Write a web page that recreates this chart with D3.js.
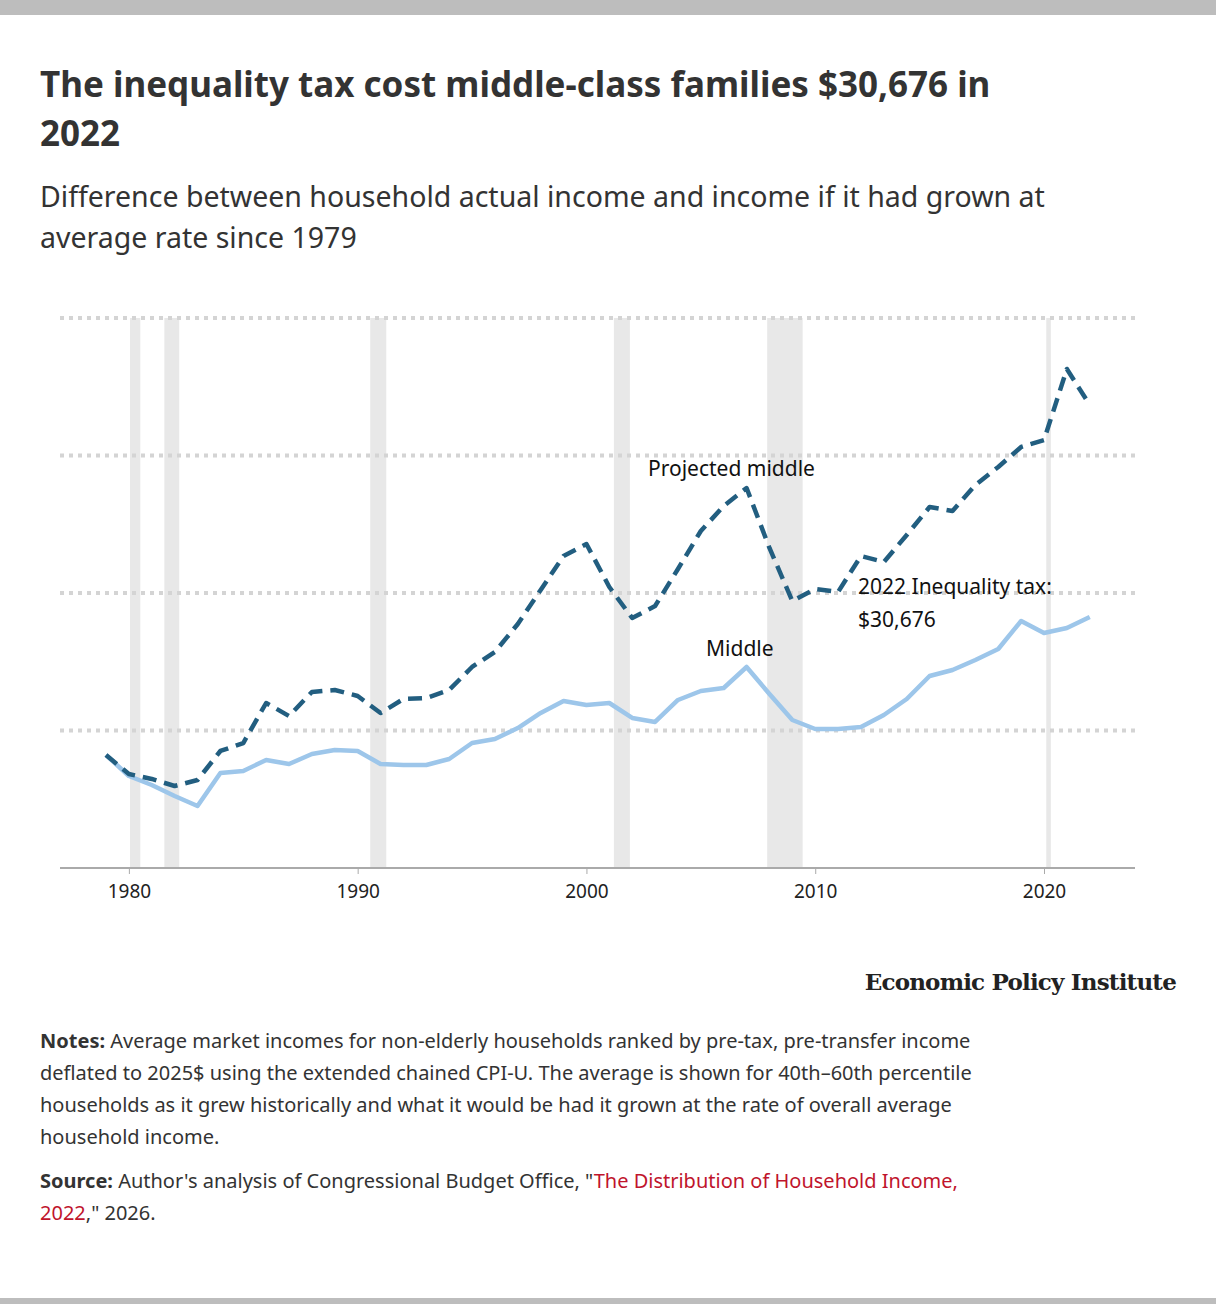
<!DOCTYPE html>
<html>
<head>
<meta charset="utf-8">
<script src="https://d3js.org/d3.v7.min.js"></script>
<style>
body{margin:0;background:#fff;font-family:"Noto Sans",sans-serif;}
</style>
</head>
<body>
<script>
var years = d3.range(1979, 2023);
// thousands of 2025$
var middle = [16.44,13.38,12.07,10.47,9.02,13.82,14.11,15.71,15.13,16.58,17.16,17.02,15.13,14.98,14.98,15.85,18.18,18.76,20.36,22.55,24.29,23.71,24.0,21.82,21.24,24.44,25.75,26.18,29.24,25.31,21.53,20.22,20.22,20.51,22.25,24.58,27.93,28.80,30.25,31.85,35.93,34.18,34.91,36.51];
var projected = [16.44,13.67,12.95,11.93,12.80,17.02,18.18,24.0,22.11,25.60,25.89,25.02,22.55,24.58,24.73,25.89,29.24,31.42,35.49,40.44,45.38,47.13,40.87,36.36,38.11,43.49,49.02,52.65,55.27,46.55,38.84,40.58,40.15,45.38,44.51,48.44,52.51,51.93,55.71,58.33,61.24,62.25,72.58,67.35];
var recessions = [[1980.05,1980.5],[1981.55,1982.2],[1990.55,1991.25],[2001.2,2001.9],[2007.9,2009.45],[2020.1,2020.3]];
var gridValues = [0,20,40,60,80];
var xTicks = [1980,1990,2000,2010,2020];

var W = 1216, H = 1304;
var svg = d3.select("body").append("svg").attr("width", W).attr("height", H);
svg.append("rect").attr("width", W).attr("height", 15).attr("fill", "#bdbdbd");
svg.append("rect").attr("y", H-6).attr("width", W).attr("height", 6).attr("fill", "#bdbdbd");

svg.append("text").attr("x", 40).attr("y", 97).attr("font-size", 35).attr("font-weight", 700).attr("fill", "#333").text("The inequality tax cost middle-class families $30,676 in");
svg.append("text").attr("x", 40).attr("y", 146).attr("font-size", 35).attr("font-weight", 700).attr("fill", "#333").text("2022");
svg.append("text").attr("x", 40).attr("y", 207).attr("font-size", 28.5).attr("fill", "#333").text("Difference between household actual income and income if it had grown at");
svg.append("text").attr("x", 40).attr("y", 248).attr("font-size", 28.5).attr("fill", "#333").text("average rate since 1979");

var x = d3.scaleLinear().domain([1979, 2020]).range([106, 1044]);
var y = d3.scaleLinear().domain([0, 80]).range([868, 318]);

var g = svg.append("g");
g.selectAll("rect.rec").data(recessions).enter().append("rect")
  .attr("x", d => x(d[0])).attr("width", d => x(d[1]) - x(d[0]))
  .attr("y", y(80)).attr("height", y(0) - y(80)).attr("fill", "#e8e8e8");

g.selectAll("line.grid").data(gridValues.slice(1)).enter().append("line")
  .attr("x1", 60).attr("x2", 1135).attr("y1", d => y(d)).attr("y2", d => y(d))
  .attr("stroke", "#d4d4d4").attr("stroke-width", 4).attr("stroke-dasharray", "4,5");

var xAxis = g.append("g").attr("transform", "translate(0," + y(0) + ")")
  .call(d3.axisBottom(x).tickValues(xTicks).tickFormat(d3.format("d")).tickSize(6));
xAxis.select(".domain").remove();
xAxis.append("line").attr("x1", 60).attr("x2", 1135).attr("stroke", "#aaa").attr("stroke-width", 2);
xAxis.selectAll(".tick line").attr("stroke", "#aaa");
xAxis.selectAll(".tick text").attr("font-size", 19).attr("font-family", "Noto Sans, sans-serif").attr("fill", "#222").attr("dy", "1.1em");

var line = d3.line().x((d, i) => x(years[i])).y(d => y(d));
g.append("path").datum(middle).attr("d", line).attr("fill", "none").attr("stroke", "#9dc6ea").attr("stroke-width", 4.5).attr("stroke-linejoin", "round");
g.append("path").datum(projected).attr("d", line).attr("fill", "none").attr("stroke", "#225e80").attr("stroke-width", 4.5).attr("stroke-dasharray", "14,8").attr("stroke-linejoin", "round");

function label(tx, ty, s) {
  svg.append("text").attr("x", tx).attr("y", ty).attr("font-size", 21).attr("fill", "#111").text(s);
}
label(648, 476, "Projected middle");
label(706, 656, "Middle");
label(858, 594, "2022 Inequality tax:");
label(858, 627, "$30,676");

svg.append("text").attr("x", 1176).attr("y", 990).attr("text-anchor", "end").attr("font-size", 23).attr("font-weight", 700)
  .attr("font-family", "DejaVu Serif, serif").attr("letter-spacing", -0.8).attr("fill", "#222").text("Economic Policy Institute");

var notes = [
  [["Notes: ", true], ["Average market incomes for non-elderly households ranked by pre-tax, pre-transfer income"]],
  [["deflated to 2025$ using the extended chained CPI-U. The average is shown for 40th\u201360th percentile"]],
  [["households as it grew historically and what it would be had it grown at the rate of overall average"]],
  [["household income."]]
];
notes.forEach(function(parts, i) {
  var t = svg.append("text").attr("x", 40).attr("y", 1048 + i * 32).attr("font-size", 20).attr("fill", "#333");
  parts.forEach(p => t.append("tspan").attr("font-weight", p[1] ? 700 : 400).text(p[0]));
});
var s1 = svg.append("text").attr("x", 40).attr("y", 1188).attr("font-size", 20).attr("fill", "#333");
s1.append("tspan").attr("font-weight", 700).text("Source: ");
s1.append("tspan").text("Author's analysis of Congressional Budget Office, \"");
s1.append("tspan").attr("fill", "#c0142c").text("The Distribution of Household Income,");
var s2 = svg.append("text").attr("x", 40).attr("y", 1220).attr("font-size", 20).attr("fill", "#333");
s2.append("tspan").attr("fill", "#c0142c").text("2022");
s2.append("tspan").text(",\" 2026.");
</script>
</body>
</html>
